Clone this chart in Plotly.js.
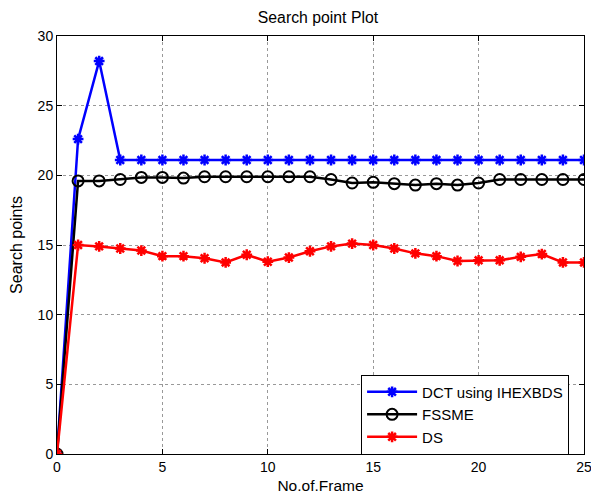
<!DOCTYPE html>
<html><head><meta charset="utf-8">
<script src="https://cdn.plot.ly/plotly-3.0.1.min.js"></script>
<style>html,body{margin:0;padding:0;background:#fff}#chart{width:591px;height:497px}</style>
</head><body><div id="chart"></div>
<script>
const frames = [0,1,2,3,4,5,6,7,8,9,10,11,12,13,14,15,16,17,18,19,20,21,22,23,24,25];
const dct = [0,22.6,28.2,21.1,21.1,21.1,21.1,21.1,21.1,21.1,21.1,21.1,21.1,21.1,21.1,21.1,21.1,21.1,21.1,21.1,21.1,21.1,21.1,21.1,21.1,21.1];
const fssme = [0,19.6,19.6,19.7,19.85,19.85,19.8,19.9,19.9,19.9,19.9,19.9,19.9,19.7,19.45,19.5,19.4,19.3,19.4,19.3,19.45,19.7,19.7,19.7,19.7,19.7];
const ds = [0,15.0,14.9,14.75,14.6,14.2,14.2,14.05,13.75,14.3,13.8,14.1,14.55,14.9,15.1,15.0,14.75,14.4,14.2,13.85,13.9,13.9,14.15,14.35,13.75,13.75];
const names = ['DCT using IHEXBDS','FSSME','DS'];

const traces = [
  {x: frames, y: dct, name: names[0], mode:'lines+markers', line:{color:'#0000ff', width:2.5},
   marker:{symbol:'asterisk-open', size:9, color:'#0000ff', line:{color:'#0000ff', width:2.5}}},
  {x: frames, y: fssme, name: names[1], mode:'lines+markers', line:{color:'#000000', width:2.5},
   marker:{symbol:'circle-open', size:11, color:'#000000', line:{color:'#000000', width:2}}},
  {x: frames, y: ds, name: names[2], mode:'lines+markers', line:{color:'#ff0000', width:2.5},
   marker:{symbol:'asterisk-open', size:9, color:'#ff0000', line:{color:'#ff0000', width:2.5}}}
];
const fam = '"Liberation Sans", Arial, sans-serif';
const fnt = {family:fam, size:14, color:'#000'};
const layout = {
  width:591, height:497,
  margin:{l:57, r:7, t:36, b:43},
  paper_bgcolor:'#fff', plot_bgcolor:'#fff',
  font: fnt,
  title:{text:'Search point Plot', font:{family:fam, size:15.8, color:'#000'}, x:0.538, xanchor:'center', y:0.965, yanchor:'middle'},
  xaxis:{range:[0,25], tickvals:[0,5,10,15,20,25], ticks:'inside', ticklen:5, tickcolor:'#000', ticklabeloverflow:'allow',
    showline:true, linecolor:'#000', linewidth:1, mirror:'ticks', showgrid:true, gridcolor:'#999', griddash:'dot', gridwidth:1,
    zeroline:false, title:{text:'No.of.Frame', font:{family:fam, size:15.5, color:'#000'}, standoff:6}, tickfont:fnt},
  yaxis:{range:[0,30], tickvals:[0,5,10,15,20,25,30], ticks:'inside', ticklen:5, tickcolor:'#000', ticklabeloverflow:'allow',
    showline:true, linecolor:'#000', linewidth:1, mirror:'ticks', showgrid:true, gridcolor:'#999', griddash:'dot', gridwidth:1,
    zeroline:false, title:{text:'Search points', font:{family:fam, size:16, color:'#000'}, standoff:11}, tickfont:fnt},
  legend:{x:0.577, y:0.19, xanchor:'left', yanchor:'top', bgcolor:'#fff', bordercolor:'#000', borderwidth:1,
    font:{family:fam, size:15, color:'#000'}, tracegroupgap:0, itemwidth:50},
  showlegend:true
};
Plotly.newPlot('chart', traces, layout, {displayModeBar:false, staticPlot:true});
</script>
</body></html>
